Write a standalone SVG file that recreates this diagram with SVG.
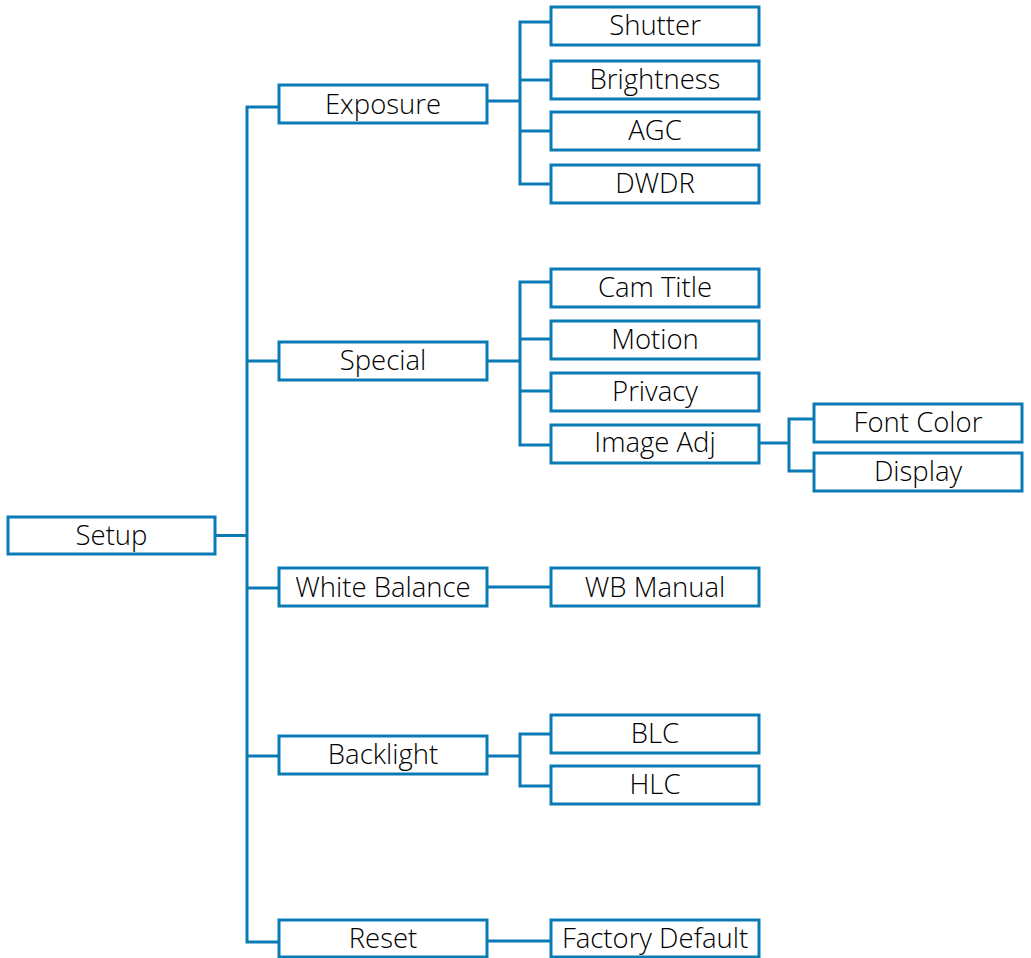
<svg xmlns="http://www.w3.org/2000/svg" width="1031" height="958" viewBox="0 0 1031 958">
  <style>
    .box rect { fill: #ffffff; stroke: #0a7ab4; stroke-width: 3; }
    .box text { font-family: "Open Sans", "Noto Sans", sans-serif; font-weight: 350; font-size: 27.5px; fill: #000000; text-anchor: middle; }
    #connectors path { fill: none; stroke: #0a7ab4; stroke-width: 3; stroke-linejoin: miter; stroke-linecap: butt; }
  </style>
  <rect width="1031" height="958" fill="#ffffff"/>

  <!-- menu tree lines -->
  <g id="connectors">
    <!-- main trunk from Setup -->
    <path d="M215 535.5 H247"/>
    <path d="M279 107 H247 V942 H279"/>
    <path d="M247 361 H279"/>
    <path d="M247 588 H279"/>
    <path d="M247 756 H279"/>
    <!-- Exposure branch -->
    <path d="M487 101 H520"/>
    <path d="M551 22 H520 V184 H551"/>
    <path d="M520 80 H551"/>
    <path d="M520 131 H551"/>
    <!-- Special branch -->
    <path d="M487 361 H520"/>
    <path d="M551 282 H520 V445 H551"/>
    <path d="M520 339 H551"/>
    <path d="M520 391 H551"/>
    <!-- Image Adj branch -->
    <path d="M759 443 H789"/>
    <path d="M814 419 H789 V471 H814"/>
    <!-- White Balance -->
    <path d="M487 587 H551"/>
    <!-- Backlight branch -->
    <path d="M487 756 H520"/>
    <path d="M551 734 H520 V786 H551"/>
    <!-- Reset -->
    <path d="M487 941 H551"/>
  </g>

  <g id="setup" class="box"><rect x="8" y="517" width="207" height="37"/><text x="111.5" y="545">Setup</text></g>

  <g id="exposure" class="box"><rect x="279" y="85" width="208" height="38"/><text x="383" y="113.5">Exposure</text></g>
  <g id="special" class="box"><rect x="279" y="342" width="208" height="38"/><text x="383" y="370">Special</text></g>
  <g id="white-balance" class="box"><rect x="279" y="568" width="208" height="38"/><text x="383" y="596.5">White Balance</text></g>
  <g id="backlight" class="box"><rect x="279" y="736" width="208" height="38"/><text x="383" y="763.5">Backlight</text></g>
  <g id="reset" class="box"><rect x="279" y="920" width="208" height="37"/><text x="383" y="948">Reset</text></g>

  <g id="shutter" class="box"><rect x="551" y="7" width="208" height="38"/><text x="655" y="35">Shutter</text></g>
  <g id="brightness" class="box"><rect x="551" y="61" width="208" height="38"/><text x="655" y="88.5">Brightness</text></g>
  <g id="agc" class="box"><rect x="551" y="112" width="208" height="38"/><text x="655" y="140">AGC</text></g>
  <g id="dwdr" class="box"><rect x="551" y="165" width="208" height="38"/><text x="655" y="193">DWDR</text></g>

  <g id="cam-title" class="box"><rect x="551" y="269" width="208" height="38"/><text x="655" y="296.5">Cam Title</text></g>
  <g id="motion" class="box"><rect x="551" y="321" width="208" height="38"/><text x="655" y="348.5">Motion</text></g>
  <g id="privacy" class="box"><rect x="551" y="373" width="208" height="38"/><text x="655" y="400.5">Privacy</text></g>
  <g id="image-adj" class="box"><rect x="551" y="425" width="208" height="38"/><text x="655" y="452">Image Adj</text></g>

  <g id="font-color" class="box"><rect x="814" y="404" width="208" height="38"/><text x="918" y="431.5">Font Color</text></g>
  <g id="display" class="box"><rect x="814" y="453" width="208" height="38"/><text x="918" y="481">Display</text></g>

  <g id="wb-manual" class="box"><rect x="551" y="568" width="208" height="38"/><text x="655" y="596.5">WB Manual</text></g>

  <g id="blc" class="box"><rect x="551" y="715" width="208" height="38"/><text x="655" y="742.5">BLC</text></g>
  <g id="hlc" class="box"><rect x="551" y="766" width="208" height="38"/><text x="655" y="793.5">HLC</text></g>

  <g id="factory-default" class="box"><rect x="551" y="920" width="208" height="37"/><text x="655" y="948">Factory Default</text></g>
</svg>
